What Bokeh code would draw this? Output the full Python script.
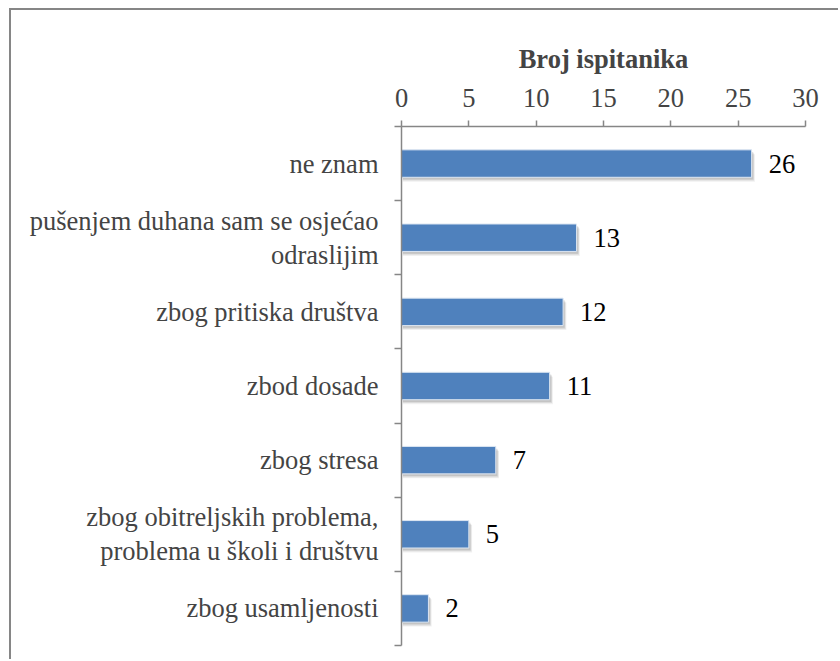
from bokeh.plotting import figure
from bokeh.models import Range1d, FixedTicker, ColumnDataSource
from bokeh.embed import file_html
from bokeh.resources import INLINE
from bokeh.core.properties import value
from bokeh.transform import dodge

# ---- data ----
categories = [
    "ne znam",
    "pušenjem duhana sam se osjećao\nodraslijim",
    "zbog pritiska društva",
    "zbod dosade",
    "zbog stresa",
    "zbog obitreljskih problema,\nproblema u školi i društvu",
    "zbog usamljenosti",
]
counts = [26, 13, 12, 11, 7, 5, 2]
x_ticks = [0, 5, 10, 15, 20, 25, 30]
axis_title = "Broj ispitanika"

FONT = "Times New Roman"
FS = "26.5px"
GRAY = "#868686"
BAR = "#4F81BD"

n = len(categories)
pos = list(range(n))
src = ColumnDataSource(dict(y=pos, v=counts, lbl=[str(c) for c in counts]))

p = figure(width=829, height=651, output_backend="svg", toolbar_location=None,
           x_range=Range1d(x_ticks[0], x_ticks[-1]), y_range=Range1d(n - 0.5, -0.5),
           x_axis_location="above",
           min_border_left=390, min_border_right=35, min_border_top=116, min_border_bottom=16)

p.background_fill_color = "white"
p.border_fill_color = "white"
p.outline_line_color = None
p.xgrid.grid_line_color = None
p.ygrid.grid_line_color = None
p.styles = {"margin-left": "9px", "margin-top": "8px",
            "border-top": "2px solid " + GRAY, "border-left": "2px solid " + GRAY}

# top value axis
xa = p.xaxis[0]
xa.ticker = FixedTicker(ticks=x_ticks, minor_ticks=[])
xa.axis_label = axis_title
xa.axis_label_text_font = FONT
xa.axis_label_text_font_style = "bold"
xa.axis_label_text_font_size = FS
xa.axis_label_standoff = 12
xa.major_label_text_font = FONT
xa.major_label_text_font_size = FS
xa.major_label_standoff = 14
xa.major_tick_out = 6
xa.major_tick_in = 0
xa.minor_tick_out = 0
xa.minor_tick_in = 0
xa.axis_line_color = GRAY
xa.axis_line_width = 1.5
xa.major_tick_line_color = GRAY
xa.major_tick_line_width = 1.5

# left category axis
ya = p.yaxis[0]
ya.ticker = FixedTicker(ticks=pos, minor_ticks=[i - 0.5 for i in range(n + 1)])
ya.major_label_overrides = {i: c for i, c in enumerate(categories)}
ya.major_label_text_font = FONT
ya.major_label_text_font_size = FS
ya.major_label_text_line_height = 1.13
ya.major_label_standoff = 16
ya.major_tick_out = 0
ya.major_tick_in = 0
ya.minor_tick_out = 7
ya.minor_tick_in = 0
ya.minor_tick_line_color = GRAY
ya.minor_tick_line_width = 1.5
ya.axis_line_color = GRAY
ya.axis_line_width = 1.5

# soft shadow
for off, a in [(0.06, 0.12), (0.045, 0.18), (0.03, 0.25)]:
    p.hbar(y=dodge("y", off), left=0.1, right=dodge("v", off * 4), height=0.37,
           source=src, fill_color="#808080", fill_alpha=a, line_color=None)

p.hbar(y="y", left=0, right="v", height=0.37, source=src,
       fill_color=BAR, line_color="#dce6f2", line_width=1)

p.text(x="v", y="y", text="lbl", source=src, x_offset=17, text_baseline="middle",
       text_font=value(FONT), text_font_size=FS, text_color="black")

open("out.html", "w").write(file_html(p, INLINE))
